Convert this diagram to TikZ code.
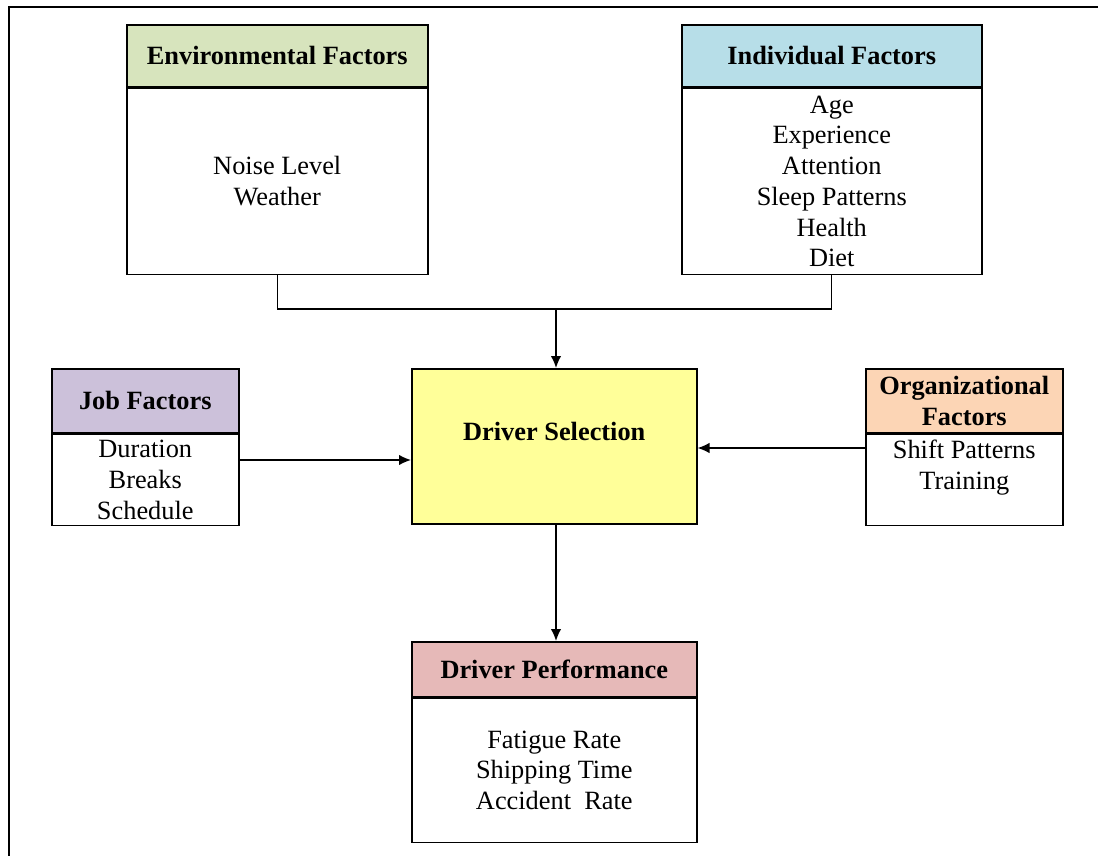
\documentclass[tikz,border=0pt]{standalone}
\usepackage{fontspec}
\setmainfont{Liberation Serif}
\usetikzlibrary{arrows.meta}
\definecolor{hdEnv}{RGB}{215,228,189}
\definecolor{hdInd}{RGB}{183,222,232}
\definecolor{hdJob}{RGB}{204,193,218}
\definecolor{hdOrg}{RGB}{252,213,181}
\definecolor{hdPerf}{RGB}{230,185,184}
\definecolor{selY}{RGB}{255,255,153}

\begin{document}
\begin{tikzpicture}[x=0.02cm,y=-0.02cm,>={Latex[length=2.4mm,width=2.1mm]},
  box/.style={draw,line width=0.9pt,inner sep=0pt,align=center,anchor=north west,
    font=\fontsize{15}{17.5}\selectfont},
  head/.style={box,font=\fontsize{15}{17.5}\selectfont\bfseries},
  link/.style={line width=0.8pt}]
\useasboundingbox (0,0) rectangle (1098,855);
\draw[line width=0.8pt] (9,870) |- (1110,7);
% top row
\node[head,fill=hdEnv,minimum width=6.02cm,minimum height=1.24cm] (envhead) at (126,24) {Environmental Factors};
\node[box,minimum width=6.02cm,minimum height=3.72cm] (envbody) at (envhead.south west) {Noise Level\\Weather};
\node[head,fill=hdInd,minimum width=6.0cm,minimum height=1.24cm] (indhead) at (681,24) {Individual Factors};
\node[box,minimum width=6.0cm,minimum height=3.72cm] (indbody) at (indhead.south west) {Age\\Experience\\Attention\\Sleep Patterns\\Health\\Diet};
% middle row
\node[head,fill=hdJob,minimum width=3.74cm,minimum height=1.28cm] (jobhead) at (51,368) {Job Factors};
\node[box,minimum width=3.74cm,minimum height=1.82cm] (jobbody) at (jobhead.south west) {Duration\\Breaks\\Schedule};
\node[head,fill=selY,minimum width=5.7cm,minimum height=3.1cm] (sel) at (411,368) {Driver Selection\\\mbox{}};
\node[head,fill=hdOrg,minimum width=3.94cm,minimum height=1.28cm] (orghead) at (865,368) {Organizational\\Factors};
\node[box,minimum width=3.94cm,minimum height=1.82cm] (orgbody) at (orghead.south west) {Shift Patterns\\Training\\\mbox{}};
% bottom
\node[head,fill=hdPerf,minimum width=5.7cm,minimum height=1.1cm] (perfhead) at (411,641) {Driver Performance};
\node[box,minimum width=5.7cm,minimum height=2.88cm] (perfbody) at (perfhead.south west) {Fatigue Rate\\Shipping Time\\Accident\ \ Rate};
% connectors
\coordinate (mrg) at (556,309);
\draw[link] (envbody.south) |- (mrg) -| (indbody.south);
\draw[link,->] (mrg) -- (mrg |- sel.north);
\draw[link,->] (jobbody.east |- 0,460) -- (sel.west |- 0,460);
\draw[link,->] (orgbody.west |- 0,448) -- (sel.east |- 0,448);
\draw[link,->] (sel.south -| mrg) -- (mrg |- perfhead.north);
\end{tikzpicture}
\end{document}
